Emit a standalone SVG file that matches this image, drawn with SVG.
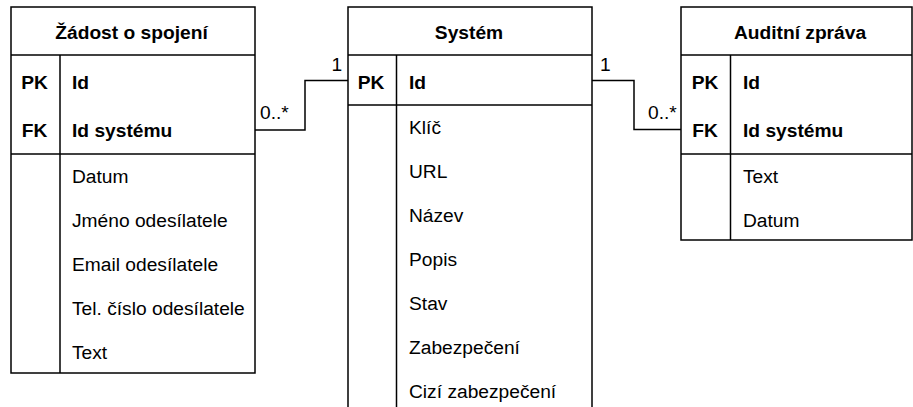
<svg xmlns="http://www.w3.org/2000/svg" width="913" height="407" viewBox="0 0 913 407">
<style>
.box{fill:#fff;stroke:#000;stroke-width:1.5}
.ln{fill:none;stroke:#000;stroke-width:1.5}
text{font-family:"Liberation Sans",Arial,sans-serif;font-size:19.2px;fill:#000}
.b{font-weight:bold}
.m{text-anchor:middle}
</style>
<rect width="913" height="407" fill="#fff"/>
<g id="connectors">
<polyline class="ln" points="255,130 305,130 305,80.5 348,80.5"/>
<polyline class="ln" points="592,80.5 634,80.5 634,129.5 681,129.5"/>
<text x="260" y="119">0..*</text>
<text x="331.5" y="70.5">1</text>
<text x="600" y="70.5">1</text>
<text x="648" y="119">0..*</text>
</g>
<g id="zadost">
<rect class="box" x="11" y="7" width="244" height="366"/>
<line class="ln" x1="11" y1="55" x2="255" y2="55"/>
<line class="ln" x1="11" y1="154" x2="255" y2="154"/>
<line class="ln" x1="60" y1="55" x2="60" y2="373"/>
<text class="b m" x="131.5" y="39">Žádost o spojení</text>
<text class="b m" x="34.5" y="89">PK</text>
<text class="b" x="72" y="89">Id</text>
<text class="b m" x="34.5" y="137">FK</text>
<text class="b" x="72" y="137">Id systému</text>
<text x="72" y="183">Datum</text>
<text x="72" y="227">Jméno odesílatele</text>
<text x="72" y="271">Email odesílatele</text>
<text x="72" y="315">Tel. číslo odesílatele</text>
<text x="72" y="359">Text</text>
</g>
<g id="system">
<rect class="box" x="348" y="7" width="244" height="430"/>
<line class="ln" x1="348" y1="55" x2="592" y2="55"/>
<line class="ln" x1="348" y1="105" x2="592" y2="105"/>
<line class="ln" x1="396.5" y1="55" x2="396.5" y2="437"/>
<text class="b m" x="469" y="39">Systém</text>
<text class="b m" x="371" y="89">PK</text>
<text class="b" x="409" y="89">Id</text>
<text x="409" y="133.5">Klíč</text>
<text x="409" y="177.5">URL</text>
<text x="409" y="221.5">Název</text>
<text x="409" y="265.5">Popis</text>
<text x="409" y="309.5">Stav</text>
<text x="409" y="353.5">Zabezpečení</text>
<text x="409" y="397.5">Cizí zabezpečení</text>
</g>
<g id="auditni">
<rect class="box" x="681" y="7" width="231" height="233"/>
<line class="ln" x1="681" y1="55" x2="912" y2="55"/>
<line class="ln" x1="681" y1="154" x2="912" y2="154"/>
<line class="ln" x1="730.5" y1="55" x2="730.5" y2="240"/>
<text class="b m" x="800" y="39">Auditní zpráva</text>
<text class="b m" x="705" y="89">PK</text>
<text class="b" x="743" y="89">Id</text>
<text class="b m" x="705" y="137">FK</text>
<text class="b" x="743" y="137">Id systému</text>
<text x="743" y="183">Text</text>
<text x="743" y="227">Datum</text>
</g>
</svg>
